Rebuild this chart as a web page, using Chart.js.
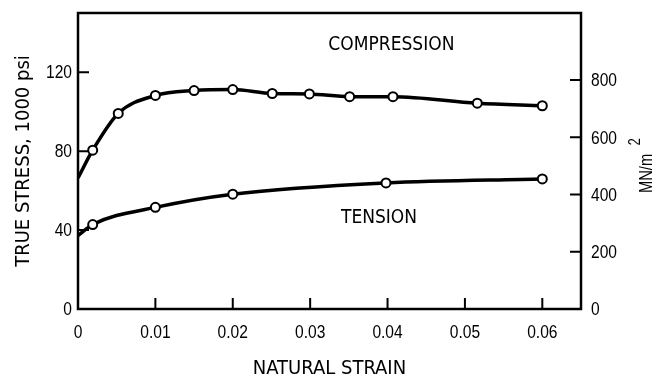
<!DOCTYPE html>
<html>
<head>
<meta charset="utf-8">
<script src="https://cdn.jsdelivr.net/npm/chart.js@4.4.1/dist/chart.umd.min.js"></script>
<style>
  html, body { margin: 0; padding: 0; background: #fff; }
  #wrap { width: 655px; height: 377px; }
</style>
</head>
<body>
<div id="wrap"><canvas id="grafico"></canvas></div>
<script>
"use strict";
//Compressao
const strainComp = [0, 0.0019, 0.0052, 0.0100, 0.0150, 0.0200, 0.0251, 0.0299, 0.0351, 0.0407, 0.0516, 0.0600];
const stressComp = [66.4, 80.5, 99.1, 108.2, 110.7, 111.2, 109.2, 109.0, 107.6, 107.6, 104.3, 103.0];
//Tracao
const strainTens = [0, 0.0019, 0.0100, 0.0200, 0.0398, 0.0600];
const stressTens = [37.2, 42.8, 51.5, 58.2, 63.9, 65.9];
//Eixos
const strainTicks = [0, 0.01, 0.02, 0.03, 0.04, 0.05, 0.06];
const ksiTicks = [0, 40, 80, 120];
const mpaTicks = [0, 200, 400, 600, 800];
const KSI_TO_MPA = 6.895;
const KSI_MAX = 150;
const STRAIN_MAX = 0.065;

const fonteNum = "'Liberation Sans', Arial, sans-serif";
const fonteTit = "'DejaVu Sans Condensed', 'DejaVu Sans', sans-serif";
const ESTREITO = 0.82; // narrow look of the original lettering

const pontos = (xs, ys) => xs.map((x, i) => ({ x: x, y: ys[i] }));
// no marker on the first point of each curve
const raios = (xs) => xs.map((x, i) => (i === 0 ? 0 : 4.5));

const serie = (xs, ys) => ({
  data: pontos(xs, ys),
  borderColor: "#000",
  borderWidth: 3.5,
  cubicInterpolationMode: "monotone",
  pointRadius: raios(xs),
  pointBackgroundColor: "#fff",
  pointBorderColor: "#000",
  pointBorderWidth: 2,
  fill: false,
});

const fixarTicks = (lista) => (scale) => {
  scale.ticks = lista.map((v) => ({ value: v }));
};

const textoEstreito = (ctx, texto, x, y, rot) => {
  ctx.save();
  ctx.translate(x, y);
  if (rot) ctx.rotate(rot);
  ctx.scale(ESTREITO, 1);
  ctx.fillText(texto, 0, 0);
  ctx.restore();
};

const rotuloX = (v) => (v === 0 ? "0" : v.toFixed(2));

//Moldura, ticks internos e textos
const moldura = {
  id: "moldura",
  afterDraw(chart) {
    const { ctx, chartArea: a, scales } = chart;
    ctx.save();
    ctx.strokeStyle = "#000";
    ctx.lineWidth = 2.5;
    ctx.strokeRect(a.left, a.top, a.right - a.left, a.bottom - a.top);

    ctx.lineWidth = 2;
    ctx.beginPath();
    scales.x.ticks.forEach((t) => {
      const px = scales.x.getPixelForValue(t.value);
      ctx.moveTo(px, a.bottom);
      ctx.lineTo(px, a.bottom - 11);
    });
    scales.y.ticks.forEach((t) => {
      const py = scales.y.getPixelForValue(t.value);
      ctx.moveTo(a.left, py);
      ctx.lineTo(a.left + 11, py);
    });
    scales.y2.ticks.forEach((t) => {
      const py = scales.y2.getPixelForValue(t.value);
      ctx.moveTo(a.right, py);
      ctx.lineTo(a.right - 11, py);
    });
    ctx.stroke();

    // tick labels
    ctx.fillStyle = "#000";
    ctx.font = "19px " + fonteNum;
    ctx.textBaseline = "middle";
    ctx.textAlign = "center";
    scales.x.ticks.forEach((t) => {
      textoEstreito(ctx, rotuloX(t.value), scales.x.getPixelForValue(t.value), a.bottom + 24);
    });
    ctx.textAlign = "right";
    scales.y.ticks.forEach((t) => {
      textoEstreito(ctx, String(t.value), a.left - 6, scales.y.getPixelForValue(t.value) + 1);
    });
    ctx.textAlign = "left";
    scales.y2.ticks.forEach((t) => {
      textoEstreito(ctx, String(t.value), a.right + 10, scales.y2.getPixelForValue(t.value) + 1);
    });

    // curve labels
    ctx.textAlign = "center";
    ctx.font = "19px " + fonteTit;
    ctx.fillText("COMPRESSION", scales.x.getPixelForValue(0.0405), scales.y.getPixelForValue(133.8));
    ctx.fillText("TENSION", scales.x.getPixelForValue(0.0389), scales.y.getPixelForValue(46.3));

    // right axis title, reading bottom to top, with superscript 2
    ctx.textBaseline = "alphabetic";
    ctx.textAlign = "left";
    ctx.save();
    ctx.translate(652, scales.y2.getPixelForValue(405));
    ctx.rotate(-Math.PI / 2);
    ctx.scale(ESTREITO, 1);
    ctx.font = "18px " + fonteNum;
    ctx.fillText("MN/m", 0, 0);
    const w = ctx.measureText("MN/m").width;
    ctx.font = "16px " + fonteNum;
    ctx.fillText("2", w + 10, -12);
    ctx.restore();
    ctx.restore();
  },
};

const ctx = document.getElementById("grafico");

const grafico = new Chart(ctx, {
  type: "line",
  data: {
    datasets: [serie(strainComp, stressComp), serie(strainTens, stressTens)],
  },
  options: {
    responsive: true,
    maintainAspectRatio: false,
    animation: false,
    layout: { padding: { top: 13, left: 0, right: 0, bottom: 0 } },
    plugins: {
      legend: { display: false },
      tooltip: { enabled: false },
    },
    scales: {
      x: {
        type: "linear",
        min: 0,
        max: STRAIN_MAX,
        afterBuildTicks: fixarTicks(strainTicks),
        afterFit: (s) => { s.height = 68; s.paddingLeft = 0; s.paddingRight = 0; },
        grid: { display: false },
        border: { display: false },
        ticks: { display: false },
        title: {
          display: true,
          text: "NATURAL STRAIN",
          color: "#000",
          font: { family: fonteTit, size: 20, lineHeight: 1 },
          padding: { top: 0, bottom: -2 },
        },
      },
      y: {
        type: "linear",
        position: "left",
        min: 0,
        max: KSI_MAX,
        afterBuildTicks: fixarTicks(ksiTicks),
        afterFit: (s) => { s.width = 78; s.paddingTop = 0; s.paddingBottom = 0; },
        grid: { display: false },
        border: { display: false },
        ticks: { display: false },
        title: {
          display: true,
          text: "TRUE STRESS, 1000 psi",
          color: "#000",
          font: { family: fonteTit, size: 20 },
          padding: { top: 12, bottom: 0 },
        },
      },
      y2: {
        type: "linear",
        position: "right",
        min: 0,
        max: KSI_MAX * KSI_TO_MPA,
        afterBuildTicks: fixarTicks(mpaTicks),
        afterFit: (s) => { s.width = 74; s.paddingTop = 0; s.paddingBottom = 0; },
        grid: { display: false },
        border: { display: false },
        ticks: { display: false },
      },
    },
  },
  plugins: [moldura],
});
</script>
</body>
</html>
